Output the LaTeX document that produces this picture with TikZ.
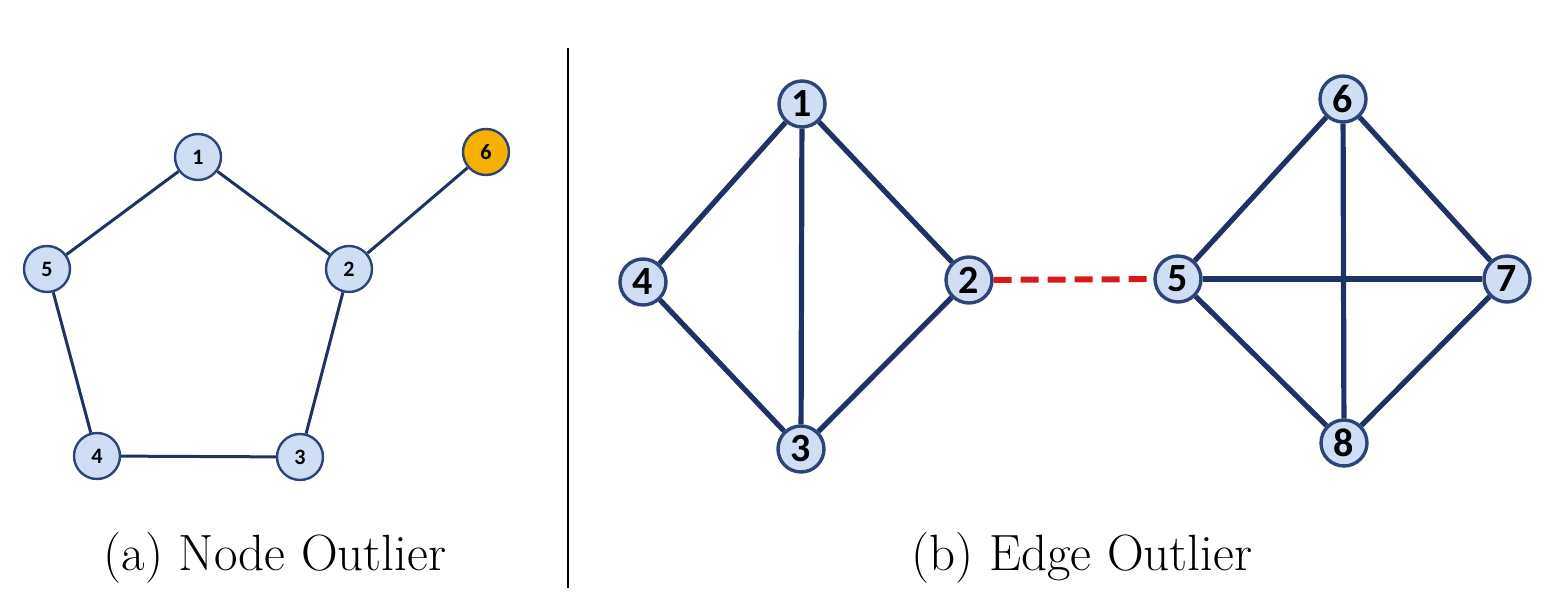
\documentclass[tikz,border=0pt]{standalone}
\usepackage{fontspec}
\newfontfamily\numfont{Carlito}
\definecolor{nodefill}{RGB}{208,222,245}
\definecolor{nodeline}{RGB}{44,68,120}
\definecolor{edgecol}{RGB}{30,50,100}
\definecolor{outlier}{RGB}{245,176,0}
\definecolor{badedge}{RGB}{215,25,28}
\tikzset{
  vsmall/.style = {circle, draw = nodeline, fill = nodefill, line width = 1.2pt,
    minimum size = 23pt, inner sep = 0pt, font = \numfont\bfseries\fontsize{11}{11}\selectfont},
  vbig/.style = {circle, draw = nodeline, fill = nodefill, line width = 1.7pt,
    minimum size = 23pt, inner sep = 0pt, font = \numfont\bfseries\fontsize{20}{20}\selectfont},
  ethin/.style = {draw = edgecol, line width = 1.5pt},
  ethick/.style = {draw = edgecol, line width = 2.6pt}
}
\begin{document}
\begin{tikzpicture}[x = 0.5pt, y = -0.5pt]
\useasboundingbox (0,0) rectangle (1560,614);

% (a) node outlier
\node[vsmall] (A1) at (198,157) {1};
\node[vsmall] (A2) at (349,269) {2};
\node[vsmall] (A3) at (300,457) {3};
\node[vsmall] (A4) at (97,456) {4};
\node[vsmall] (A5) at (47,269) {5};
\node[vsmall, fill = outlier] (A6) at (486,152) {6};
\foreach \a/\b in {A1/A2, A2/A3, A3/A4, A4/A5, A5/A1, A2/A6}
  \draw[ethin] (\a) -- (\b);

% separator
\coordinate (ST) at (568,48);
\coordinate (SB) at (568,588);
\draw[line width = 0.8pt] (ST) -- (SB);

% (b) edge outlier
\node[vbig] (B1) at (802,104) {1};
\node[vbig] (B2) at (969,280) {2};
\node[vbig] (B3) at (801,449) {3};
\node[vbig] (B4) at (643,282) {4};
\node[vbig] (B5) at (1178,279) {5};
\node[vbig] (B6) at (1343,99) {6};
\node[vbig] (B7) at (1507,279) {7};
\node[vbig] (B8) at (1344,443) {8};
\foreach \a/\b in {B1/B2, B1/B3, B1/B4, B2/B3, B3/B4, B5/B6, B5/B7, B5/B8, B6/B7, B6/B8, B7/B8}
  \draw[ethick] (\a) -- (\b);
\draw[draw = badedge, line width = 3pt, dash pattern = on 9pt off 4.5pt] (B2) -- (B5);

% captions
\node[font = \fontsize{25.5}{30}\selectfont] (capA) at (275,558) {(a) Node Outlier};
\node[font = \fontsize{25.5}{30}\selectfont] (capB) at (1082,558) {(b) Edge Outlier};
\end{tikzpicture}
\end{document}
